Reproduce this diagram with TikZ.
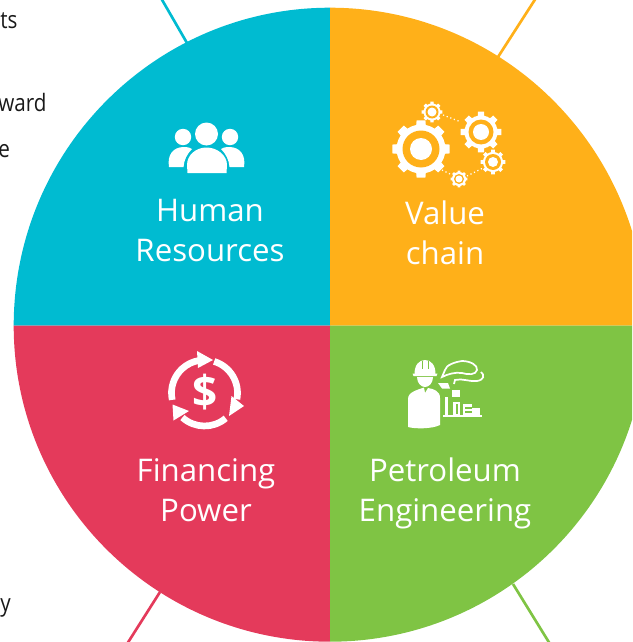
\documentclass[tikz,border=0pt]{standalone}
\usepackage{fontspec}
\setmainfont{Open Sans}
\newfontfamily\sidefont[FakeStretch=0.86]{Open Sans}
\definecolor{cteal}{HTML}{00BBD1}
\definecolor{corange}{HTML}{FFB019}
\definecolor{ccrim}{HTML}{E43A5B}
\definecolor{cgreen}{HTML}{7FC444}
\newcommand{\gearshape}[8]{% x y outer root ringouter disc teeth fillcolor
  \fill[white] ({#1+#4},{#2})
  \foreach \i [evaluate=\i as \a using \i*360/#7] in {1,...,#7}{
    -- ({#1+#4*cos(\a-180/#7)},{#2+#4*sin(\a-180/#7)})
    -- ({#1+#4*cos(\a-90/#7)},{#2+#4*sin(\a-90/#7)})
    -- ({#1+#3*cos(\a-70/#7)},{#2+#3*sin(\a-70/#7)})
    -- ({#1+#3*cos(\a+70/#7)},{#2+#3*sin(\a+70/#7)})
    -- ({#1+#4*cos(\a+90/#7)},{#2+#4*sin(\a+90/#7)})
    -- ({#1+#4*cos(\a+180/#7)},{#2+#4*sin(\a+180/#7)})
  } -- cycle;
  \fill[#8] (#1,#2) circle[radius=#5];
  \fill[white] (#1,#2) circle[radius=#6];
}
\tikzset{
  label text/.style={text=white,align=center,font=\fontsize{23.4}{30}\selectfont,inner sep=0pt},
  side text/.style={text=black!90,anchor=base west,font=\sidefont\fontsize{18}{20}\selectfont,inner sep=0pt},
  leader/.style={line width=2pt},
  link/.style={white,line width=0.9pt,dotted},
  ringarc/.style={white,line width=5pt},
  thin stroke/.style={white,line width=1.3pt,fill=none},
}
\begin{document}
\begin{tikzpicture}[x=0.75pt,y=-0.75pt]
\useasboundingbox (0,0) rectangle (632,642);
\clip (0,0) rectangle (632,642);
% leaders
\coordinate (a1) at (187,43); \coordinate (a2) at (161,-2);
\coordinate (b1) at (498,57); \coordinate (b2) at (536,-2);
\coordinate (c1) at (160,592); \coordinate (c2) at (127,644);
\coordinate (d1) at (513,584); \coordinate (d2) at (550,644);
\draw[leader,cteal] (a1)--(a2);
\draw[leader,corange] (b1)--(b2);
\draw[leader,ccrim] (c1)--(c2);
\draw[leader,cgreen] (d1)--(d2);
% quadrants
\fill[cteal] (330,325.7) -- (13.7,325.7) arc[start angle=180,end angle=90,x radius=316.3,y radius=-318] -- cycle;
\fill[corange] (330,325.7) -- (330,7.7) arc[start angle=90,end angle=0,x radius=316.3,y radius=-318] -- cycle;
\fill[ccrim] (330,325.7) -- (330,641.7) arc[start angle=270,end angle=180,x radius=316.3,y radius=-316] -- cycle;
\fill[cgreen] (330,325.7) -- (646.3,325.7) arc[start angle=0,end angle=-90,x radius=316.3,y radius=-316] -- cycle;
% side fragments
\node[side text] (s1) at (0,29) {ts};
\node[side text] (s2) at (-2,111) {ward};
\node[side text] (s3) at (-2,157) {e};
\node[side text] (s4) at (0,611) {y};
% labels
\node[label text] (hr) at (210,231) {Human\\Resources};
\node[label text] (vc) at (445,233) {Value\\chain};
\node[label text] (fp) at (206,490) {Financing\\Power};
\node[label text] (pe) at (445,493) {Petroleum\\Engineering};
% people icon
\begin{scope}[white]
\fill (183,137) circle[radius=8.2];
\fill (230,137) circle[radius=8.2];
\fill (206.5,134) circle[radius=11.5];
\fill (169,167) .. controls (167,155) and (173,147) .. (184,147) .. controls (188,147) and (191,148) .. (192,149) .. controls (187,154) and (184,160) .. (183.5,167) -- cycle;
\fill (244,167) .. controls (246,155) and (240,147) .. (229,147) .. controls (225,147) and (222,148) .. (221,149) .. controls (226,154) and (229,160) .. (229.5,167) -- cycle;
\fill (187.5,173) -- (187,165) .. controls (187,155) and (196,147.5) .. (206.5,147.5) .. controls (217,147.5) and (227,155) .. (227,165) -- (226.5,173) -- cycle;
\end{scope}
% gears
\draw[link] (443,115)--(461,122);
\draw[link] (442,170)--(452,175);
\draw[link] (467,176)--(483,168);
\gearshape{421}{149}{29}{24.5}{18.5}{11}{8}{corange}
\gearshape{481}{132}{20.5}{16.5}{12.5}{8}{8}{corange}
\gearshape{493}{162}{12.5}{10}{8}{5}{8}{corange}
\gearshape{432}{112}{10.5}{8.5}{6.5}{4.5}{8}{corange}
\gearshape{459}{179}{8.5}{7}{5}{3.5}{8}{corange}
% finance icon
\node[text=white,inner sep=0pt,font=\fontsize{33}{34}\selectfont\bfseries] (usd) at (205,392) {\$};
\draw[ringarc] ({204.5+33*cos(192)},{393-33*sin(192)}) arc[start angle=192,end angle=100,x radius=33,y radius=-33];
\fill[white] (213,360) -- (197,351) -- (198,368) -- cycle;
\draw[ringarc] ({204.5+33*cos(73)},{393-33*sin(73)}) arc[start angle=73,end angle=-11,x radius=33,y radius=-33];
\fill[white] (244,406) -- (229,416) -- (231.5,396) -- cycle;
\draw[ringarc] ({204.5+33*cos(-50)},{393-33*sin(-50)}) arc[start angle=-50,end angle=-132,x radius=33,y radius=-33];
\fill[white] (172.5,404.5) -- (173.5,420.5) -- (189,411) -- cycle;
% worker icon
\begin{scope}[white]
\fill (408,427) -- (408,399) .. controls (408,392) and (417,390) .. (424,387.5) -- (425,393) -- (428,388) .. controls (434,389) and (440,391) .. (440,398) -- (440,425) .. controls (432,429) and (415,429) .. (408,427) -- cycle;
\fill (414.5,374) .. controls (414.5,365) and (419,360) .. (425,360) .. controls (431,360) and (435.5,365) .. (435.5,374) -- cycle;
\fill (412.5,373.5) -- (437.5,373.5) -- (436.5,376) -- (413.5,376) -- cycle;
\fill (417,377) -- (433,377) .. controls (433,383) and (429,387) .. (425,387) .. controls (421,387) and (417,383) .. (417,377) -- cycle;
\fill[cgreen] (421.5,361) rectangle (422.5,369);
\fill[cgreen] (428,361) rectangle (429,369);
\draw[thin stroke] (442,377) -- (445,370) .. controls (446,365) and (455,362) .. (462,361) .. controls (470,361) and (478,365) .. (477,370) .. controls (476,375) and (468,375) .. (462,373) .. controls (455,372) and (448,374) .. (442,377) -- cycle;
\draw[thin stroke] (454,384) -- (455,380) .. controls (462,378) and (470,382) .. (477,381) .. controls (484,380) and (485,375) .. (481,372);
\fill (438,383) -- (448,383) -- (450,388.5) -- (442,388.5) -- cycle;
\fill (452,390) rectangle (460,397);
\fill (445,397) rectangle (448,415);
\fill (443,414.5) rectangle (482,417);
\fill (453,402) rectangle (460,415);
\fill[cgreen] (456,404) rectangle (457.5,414);
\fill (463,404) rectangle (472,415);
\fill (472,408) rectangle (480,415);
\fill[cgreen] (465,407) rectangle (472,408.5);
\fill[cgreen] (465,411) rectangle (472,412.5);
\end{scope}
\end{tikzpicture}
\end{document}
